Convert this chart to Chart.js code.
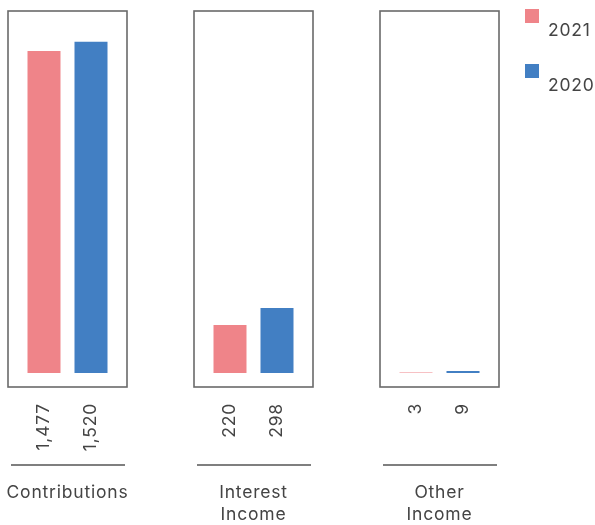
<!DOCTYPE html>
<html>
<head>
<meta charset="utf-8">
<script src="https://cdn.jsdelivr.net/npm/chart.js@4/dist/chart.umd.min.js"></script>
<style>
  html, body { margin: 0; padding: 0; background: #fff; }
  #wrap { position: relative; width: 595px; height: 525px; overflow: hidden; }
  #wrap canvas { position: absolute; top: 0; }
</style>
</head>
<body>
<div id="wrap"></div>
<script>
// Income sources, two years side by side, one boxed panel per category
const categories = [["Contributions"], ["Interest", "Income"], ["Other", "Income"]];
const seriesLabels = ["2021", "2020"];
const values2021 = [1477, 220, 3];
const values2020 = [1520, 298, 9];
const seriesColors = ["#EF8489", "#427FC3"];

const FONT = "Inter, 'Open Sans', sans-serif";
const FONT_SIZE = 17.5;
const SPACING = '0.8px';
const TEXT = "#444444";
const BOX_W = 119;
const boxLeft = [8, 194, 380];
const BOX_TOP = 11, BOX_BOTTOM = 387, H = 525;
const Y_MIN = -64, Y_MAX = 1661;

function setText(ctx) {
  ctx.fillStyle = TEXT;
  ctx.font = FONT_SIZE + 'px ' + FONT;
  ctx.letterSpacing = SPACING;
}

// Box outline, rotated value labels, underline and category name
const panelDecor = {
  id: 'panelDecor',
  afterDatasetsDraw(chart) {
    const ctx = chart.ctx;
    const a = chart.chartArea;
    ctx.save();
    ctx.strokeStyle = '#6a6a6a';
    ctx.lineWidth = 1.6;
    ctx.strokeRect(a.left, a.top, a.right - a.left, a.bottom - a.top);

    setText(ctx);
    chart.data.datasets.forEach((ds, i) => {
      const bar = chart.getDatasetMeta(i).data[0];
      ctx.save();
      ctx.translate(bar.x, 403);
      ctx.rotate(-Math.PI / 2);
      ctx.textAlign = 'right';
      ctx.textBaseline = 'middle';
      ctx.fillText(ds.data[0].toLocaleString('en-US'), 0, 0);
      ctx.restore();
    });

    ctx.strokeStyle = '#555555';
    ctx.lineWidth = 1.4;
    ctx.beginPath();
    ctx.moveTo(a.left + 3, 465);
    ctx.lineTo(a.right - 2, 465);
    ctx.stroke();

    const cx = (a.left + a.right) / 2;
    ctx.textAlign = 'center';
    ctx.textBaseline = 'middle';
    chart.data.labels[0].forEach((line, k) => {
      ctx.fillText(line, cx, 493 + k * 22);
    });
    ctx.restore();
  }
};

// Series key drawn at the top right
const sideLegend = {
  id: 'sideLegend',
  afterDraw(chart, args, opts) {
    if (!opts.show) return;
    const ctx = chart.ctx;
    ctx.save();
    chart.data.datasets.forEach((ds, i) => {
      const y = 9 + i * 55;
      ctx.fillStyle = ds.backgroundColor;
      ctx.fillRect(opts.x, y, 14, 14);
      setText(ctx);
      ctx.textAlign = 'left';
      ctx.textBaseline = 'middle';
      ctx.fillText(ds.label, opts.x + 23, y + 22);
    });
    ctx.restore();
  }
};

const wrap = document.getElementById('wrap');
categories.forEach((cat, p) => {
  const canvas = document.createElement('canvas');
  const left = boxLeft[p] - 8;
  const width = p === 2 ? 595 - left : 136;
  canvas.width = width;
  canvas.height = H;
  canvas.style.left = left + 'px';
  canvas.style.width = width + 'px';
  canvas.style.height = H + 'px';
  wrap.appendChild(canvas);

  new Chart(canvas, {
    type: 'bar',
    data: {
      labels: [cat],
      datasets: [
        { label: seriesLabels[0], data: [values2021[p]], backgroundColor: seriesColors[0] },
        { label: seriesLabels[1], data: [values2020[p]], backgroundColor: seriesColors[1] }
      ]
    },
    options: {
      responsive: false,
      devicePixelRatio: 1,
      animation: false,
      categoryPercentage: 0.79,
      barPercentage: 0.702,
      layout: { padding: { left: 8, right: width - 8 - BOX_W, top: BOX_TOP, bottom: H - BOX_BOTTOM } },
      scales: {
        x: { display: false },
        y: { display: false, min: Y_MIN, max: Y_MAX }
      },
      plugins: {
        legend: { display: false },
        tooltip: { enabled: false },
        sideLegend: { show: p === 2, x: 525 - left }
      }
    },
    plugins: [panelDecor, sideLegend]
  });
});
</script>
</body>
</html>
